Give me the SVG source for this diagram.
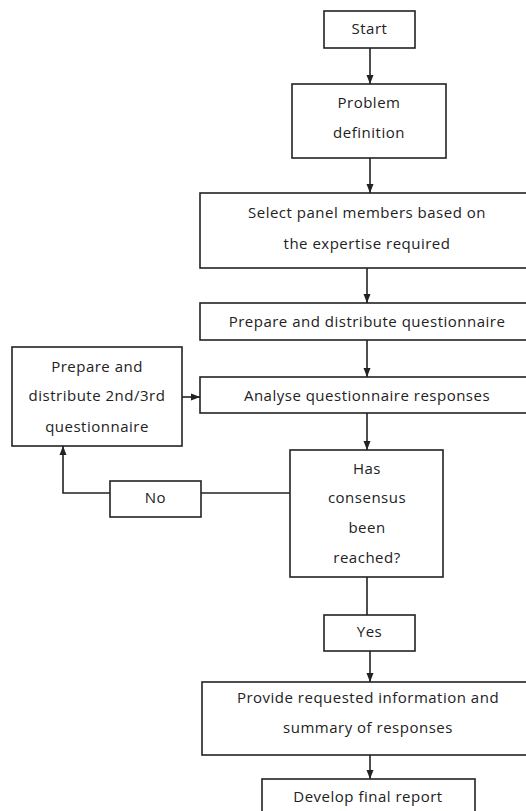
<svg xmlns="http://www.w3.org/2000/svg" width="526" height="811" viewBox="0 0 526 811">
  <style>
    .box { fill: #fff; stroke: #222; stroke-width: 1.6; }
    .lbl { font-family: "Open Sans", "Liberation Sans", sans-serif; font-size: 15px; letter-spacing: 0.5px; fill: #222; text-anchor: middle; dominant-baseline: middle; }
    .wire { fill: none; stroke: #222; stroke-width: 1.6; }
  </style>
  <defs>
    <marker id="arrow" viewBox="0 0 9 8" refX="9" refY="4" markerWidth="9" markerHeight="8" markerUnits="userSpaceOnUse" orient="auto">
      <path d="M0,0.5 L9,4 L0,7.5 Z" fill="#222"/>
    </marker>
  </defs>
  <rect width="526" height="811" fill="#fff"/>

  <g id="connectors">
    <line class="wire" x1="370" y1="48" x2="370" y2="84" marker-end="url(#arrow)"/>
    <line class="wire" x1="370" y1="158" x2="370" y2="193" marker-end="url(#arrow)"/>
    <line class="wire" x1="367" y1="268" x2="367" y2="303" marker-end="url(#arrow)"/>
    <line class="wire" x1="367" y1="340" x2="367" y2="377" marker-end="url(#arrow)"/>
    <line class="wire" x1="182" y1="397" x2="200" y2="397" marker-end="url(#arrow)"/>
    <line class="wire" x1="367" y1="413" x2="367" y2="450" marker-end="url(#arrow)"/>
    <line class="wire" x1="290" y1="493" x2="201" y2="493"/>
    <polyline class="wire" points="110,493 63,493 63,446" marker-end="url(#arrow)"/>
    <line class="wire" x1="367" y1="577" x2="367" y2="615"/>
    <line class="wire" x1="370" y1="651" x2="370" y2="682" marker-end="url(#arrow)"/>
    <line class="wire" x1="370" y1="755" x2="370" y2="779" marker-end="url(#arrow)"/>
  </g>

  <g id="start">
    <rect class="box" x="324" y="11" width="91" height="37"/>
    <text class="lbl" x="369.5" y="30">Start</text>
  </g>

  <g id="problem">
    <rect class="box" x="292" y="84" width="154" height="74"/>
    <text class="lbl" x="369" y="104">Problem</text>
    <text class="lbl" x="369" y="134">definition</text>
  </g>

  <g id="select">
    <rect class="box" x="200" y="193" width="340" height="75"/>
    <text class="lbl" x="367" y="214">Select panel members based on</text>
    <text class="lbl" x="367" y="245">the expertise required</text>
  </g>

  <g id="prepare">
    <rect class="box" x="200" y="303" width="340" height="37"/>
    <text class="lbl" x="367" y="323">Prepare and distribute questionnaire</text>
  </g>

  <g id="analyse">
    <rect class="box" x="200" y="377" width="340" height="36"/>
    <text class="lbl" x="367" y="397">Analyse questionnaire responses</text>
  </g>

  <g id="redistribute">
    <rect class="box" x="12" y="347" width="170" height="99"/>
    <text class="lbl" x="97" y="368">Prepare and</text>
    <text class="lbl" x="97" y="397">distribute 2nd/3rd</text>
    <text class="lbl" x="97" y="428">questionnaire</text>
  </g>

  <g id="consensus">
    <rect class="box" x="290" y="450" width="153" height="127"/>
    <text class="lbl" x="367" y="470">Has</text>
    <text class="lbl" x="367" y="499">consensus</text>
    <text class="lbl" x="367" y="529">been</text>
    <text class="lbl" x="367" y="559">reached?</text>
  </g>

  <g id="no">
    <rect class="box" x="110" y="481" width="91" height="36"/>
    <text class="lbl" x="155.5" y="499">No</text>
  </g>

  <g id="yes">
    <rect class="box" x="324" y="615" width="91" height="36"/>
    <text class="lbl" x="369.5" y="633">Yes</text>
  </g>

  <g id="provide">
    <rect class="box" x="202" y="682" width="340" height="73"/>
    <text class="lbl" x="368" y="699">Provide requested information and</text>
    <text class="lbl" x="368" y="729">summary of responses</text>
  </g>

  <g id="report">
    <rect class="box" x="262" y="779" width="213" height="40"/>
    <text class="lbl" x="368" y="798">Develop final report</text>
  </g>
</svg>
